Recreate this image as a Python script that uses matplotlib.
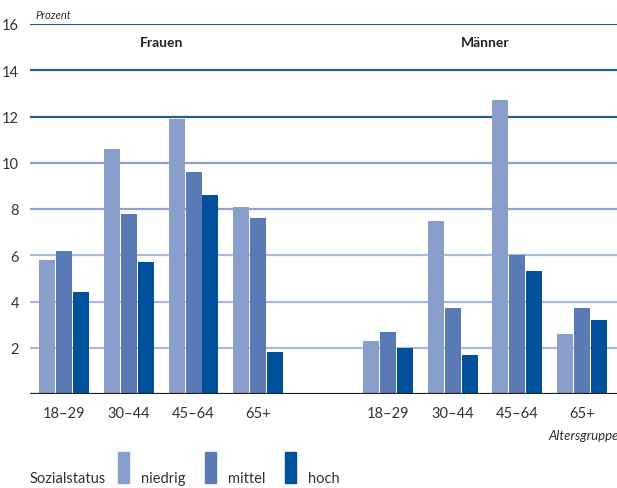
import matplotlib
matplotlib.use("Agg")
from matplotlib import pyplot as plt
from matplotlib.patches import Rectangle

plt.rcParams['font.family'] = ['Lato', 'DejaVu Sans']

# Altersgruppen, Frauen links, Männer rechts
age_groups = ['18–29', '30–44', '45–64', '65+']
positions = [0, 1, 2, 3, 5, 6, 7, 8]
tick_labels = age_groups + age_groups

status = ['niedrig', 'mittel', 'hoch']
colors = ['#8a9ecb', '#5a7ab6', '#00509b']

# Prozent: Frauen (4 Werte) + Männer (4 Werte)
niedrig = [5.8, 10.6, 11.9, 8.1, 2.3, 7.5, 12.7, 2.6]
mittel = [6.2, 7.8, 9.6, 7.6, 2.7, 3.7, 6.0, 3.7]
hoch = [4.4, 5.7, 8.6, 1.8, 2.0, 1.7, 5.3, 3.2]
series = [niedrig, mittel, hoch]

yticks = [2, 4, 6, 8, 10, 12, 14, 16]
grid_colors = ['#a9b9e0', '#a9b9e0', '#a9b9e0', '#8ea3cf', '#8ea3cf',
               '#2c5a98', '#2c5a98', '#2c5a98']

fig = plt.figure(figsize=(6.17, 4.89), dpi=100)
ax = fig.add_axes([30 / 617, 1 - 395 / 489, 587 / 617, 370 / 489])

width = 16 / 64.75
step = 17 / 64.75
for k, vals in enumerate(series):
    xs = [p + (k - 1) * step for p in positions]
    ax.bar(xs, vals, width=width, color=colors[k], zorder=2)

for y, c in zip(yticks, grid_colors):
    ax.axhline(y, color=c, lw=1.6, zorder=1)
ax.axhline(0, color='#222222', lw=1.6, zorder=3)

ax.set_xlim(-34 / 64.75, 553 / 64.75)
ax.set_ylim(0, 16)
ax.set_yticks(yticks)
ax.set_yticklabels([str(v) for v in yticks], fontsize=10.5, color='#333333')
ax.set_xticks(positions)
ax.set_xticklabels(tick_labels, fontsize=10.5, color='#333333')
ax.tick_params(axis='both', length=0)
ax.tick_params(axis='y', pad=8)
ax.tick_params(axis='x', pad=9)
for s in ax.spines.values():
    s.set_visible(False)

ax.text(1.5, 15.2, 'Frauen', ha='center', va='center', fontsize=10,
        fontweight='bold', color='#222222')
ax.text(6.5, 15.2, 'Männer', ha='center', va='center', fontsize=10,
        fontweight='bold', color='#222222')

fig.text(35 / 617, 1 - 19 / 489, 'Prozent', fontsize=8, style='italic',
         color='#333333', va='baseline')
fig.text(548 / 617, 1 - 440 / 489, 'Altersgruppe', fontsize=9.5,
         style='italic', color='#333333', va='baseline')

# Legende
fig.text(30 / 617, 1 - 483 / 489, 'Sozialstatus', fontsize=10.5,
         color='#333333', va='baseline')
patch_x = [118, 205, 285]
text_x = [141, 228, 308]
for k in range(3):
    fig.add_artist(Rectangle((patch_x[k] / 617, 1 - 484 / 489), 11 / 617,
                             31 / 489, transform=fig.transFigure,
                             color=colors[k]))
    fig.text(text_x[k] / 617, 1 - 483 / 489, status[k], fontsize=10.5,
             color='#333333', va='baseline')

fig.savefig('out.png', dpi=100)
plt.close(fig)
